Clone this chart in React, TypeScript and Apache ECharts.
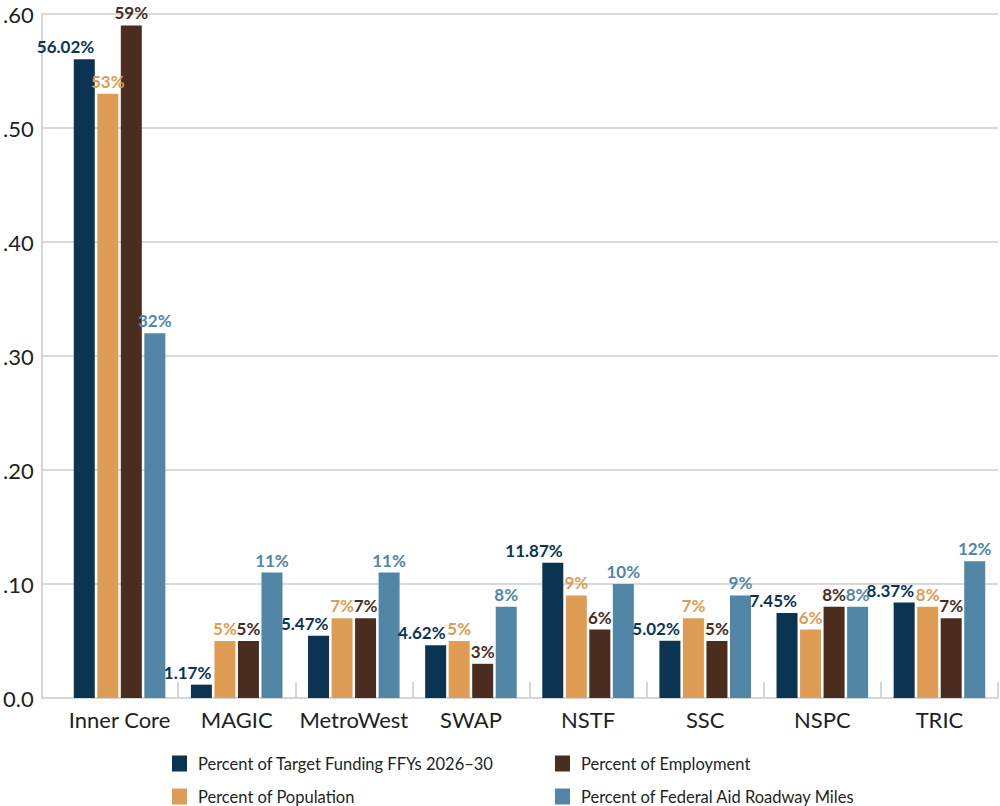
import React, { useEffect, useRef } from "react";
import * as echarts from "echarts";

const categories = ["Inner Core", "MAGIC", "MetroWest", "SWAP", "NSTF", "SSC", "NSPC", "TRIC"];
const fundingShare = [0.5602, 0.0117, 0.0547, 0.0462, 0.1187, 0.0502, 0.0745, 0.0837];
const populationShare = [0.53, 0.05, 0.07, 0.05, 0.09, 0.07, 0.06, 0.08];
const employmentShare = [0.59, 0.05, 0.07, 0.03, 0.06, 0.05, 0.08, 0.07];
const roadwayShare = [0.32, 0.11, 0.11, 0.08, 0.1, 0.09, 0.08, 0.12];
const seriesNames = [
  "Percent of Target Funding FFYs 2026–30",
  "Percent of Population",
  "Percent of Employment",
  "Percent of Federal Aid Roadway Miles",
];
const yTicks = [0, 0.1, 0.2, 0.3, 0.4, 0.5, 0.6];

const COLORS = ["#0b3453", "#de9c55", "#4b2d1f", "#5186a7"];
const FONT = "Lato, 'Open Sans', sans-serif";
const LABEL_FONT = "Lato, sans-serif";

export default function App() {
  const ref = useRef<HTMLDivElement>(null);
  useEffect(() => {
    if (!ref.current) return;
    const chart = echarts.init(ref.current, null, { renderer: "svg" });
    const datasets = [fundingShare, populationShare, employmentShare, roadwayShare];
    const series = datasets.map((d, i) => ({
      name: seriesNames[i],
      type: "bar",
      xAxisIndex: 1,
      yAxisIndex: 1,
      data: d,
      barWidth: 21,
      barGap: "12%",
      itemStyle: { color: COLORS[i] },
      label: {
        show: true,
        position: "top",
        distance: 4,
        color: COLORS[i],
        fontFamily: LABEL_FONT,
        fontWeight: "bold",
        fontSize: 17,
        ...(i === 0 ? { align: "right", offset: [10, 0] } : {}),
        formatter: (p: any) =>
          i === 0 ? (p.value * 100).toFixed(2) + "%" : Math.round(p.value * 100) + "%",
      },
    }));
    const legendBase = {
      orient: "vertical",
      top: 755,
      padding: 0,
      itemWidth: 15,
      itemHeight: 16,
      itemGap: 16,
      icon: "rect",
      selectedMode: false,
      textStyle: { color: "#231f20", fontFamily: FONT, fontSize: 16.5, lineHeight: 16, padding: [0, 0, 0, 6] },
    };
    chart.setOption({
      animation: false,
      grid: [
        { left: 36, right: 2, top: 14, bottom: 108 },
        { left: 61, right: 2, top: 14, bottom: 108 },
      ],
      xAxis: [
        {
          gridIndex: 0,
          type: "category",
          data: [""],
          axisLine: { show: true, lineStyle: { color: "#d6d6d6", width: 2 } },
          axisTick: { show: false },
          axisLabel: { show: false },
        },
        {
          gridIndex: 1,
          type: "category",
          data: categories,
          axisLine: { show: false },
          axisTick: {
            show: true,
            inside: true,
            length: 16,
            interval: (idx: number) => idx !== 0,
            lineStyle: { color: "#d6d6d6", width: 2 },
          },
          axisLabel: { color: "#231f20", fontFamily: FONT, fontSize: 22, margin: 10, interval: 0 },
        },
      ],
      yAxis: [
        {
          gridIndex: 0,
          type: "value",
          min: yTicks[0],
          max: yTicks[yTicks.length - 1],
          interval: 0.1,
          axisLine: { show: true, lineStyle: { color: "#d6d6d6", width: 2 } },
          axisTick: { show: false },
          splitLine: { show: true, lineStyle: { color: "#d9d9d9", width: 2 } },
          axisLabel: {
            color: "#231f20",
            fontFamily: FONT,
            fontSize: 22,
            margin: 8,
            formatter: (v: number) => (v === 0 ? "0.0" : v.toFixed(2).replace(/^0/, "")),
          },
        },
        {
          gridIndex: 1,
          type: "value",
          min: yTicks[0],
          max: yTicks[yTicks.length - 1],
          show: false,
          splitLine: { show: false },
        },
      ],
      legend: [
        { ...legendBase, data: [seriesNames[0], seriesNames[1]], left: 172 },
        { ...legendBase, data: [seriesNames[2], seriesNames[3]], left: 555 },
      ],
      series,
    });
    return () => chart.dispose();
  }, []);
  return (
    <div
      ref={ref}
      style={{ position: "absolute", left: 0, top: 0, width: 1000, height: 806, background: "#fff" }}
    />
  );
}
